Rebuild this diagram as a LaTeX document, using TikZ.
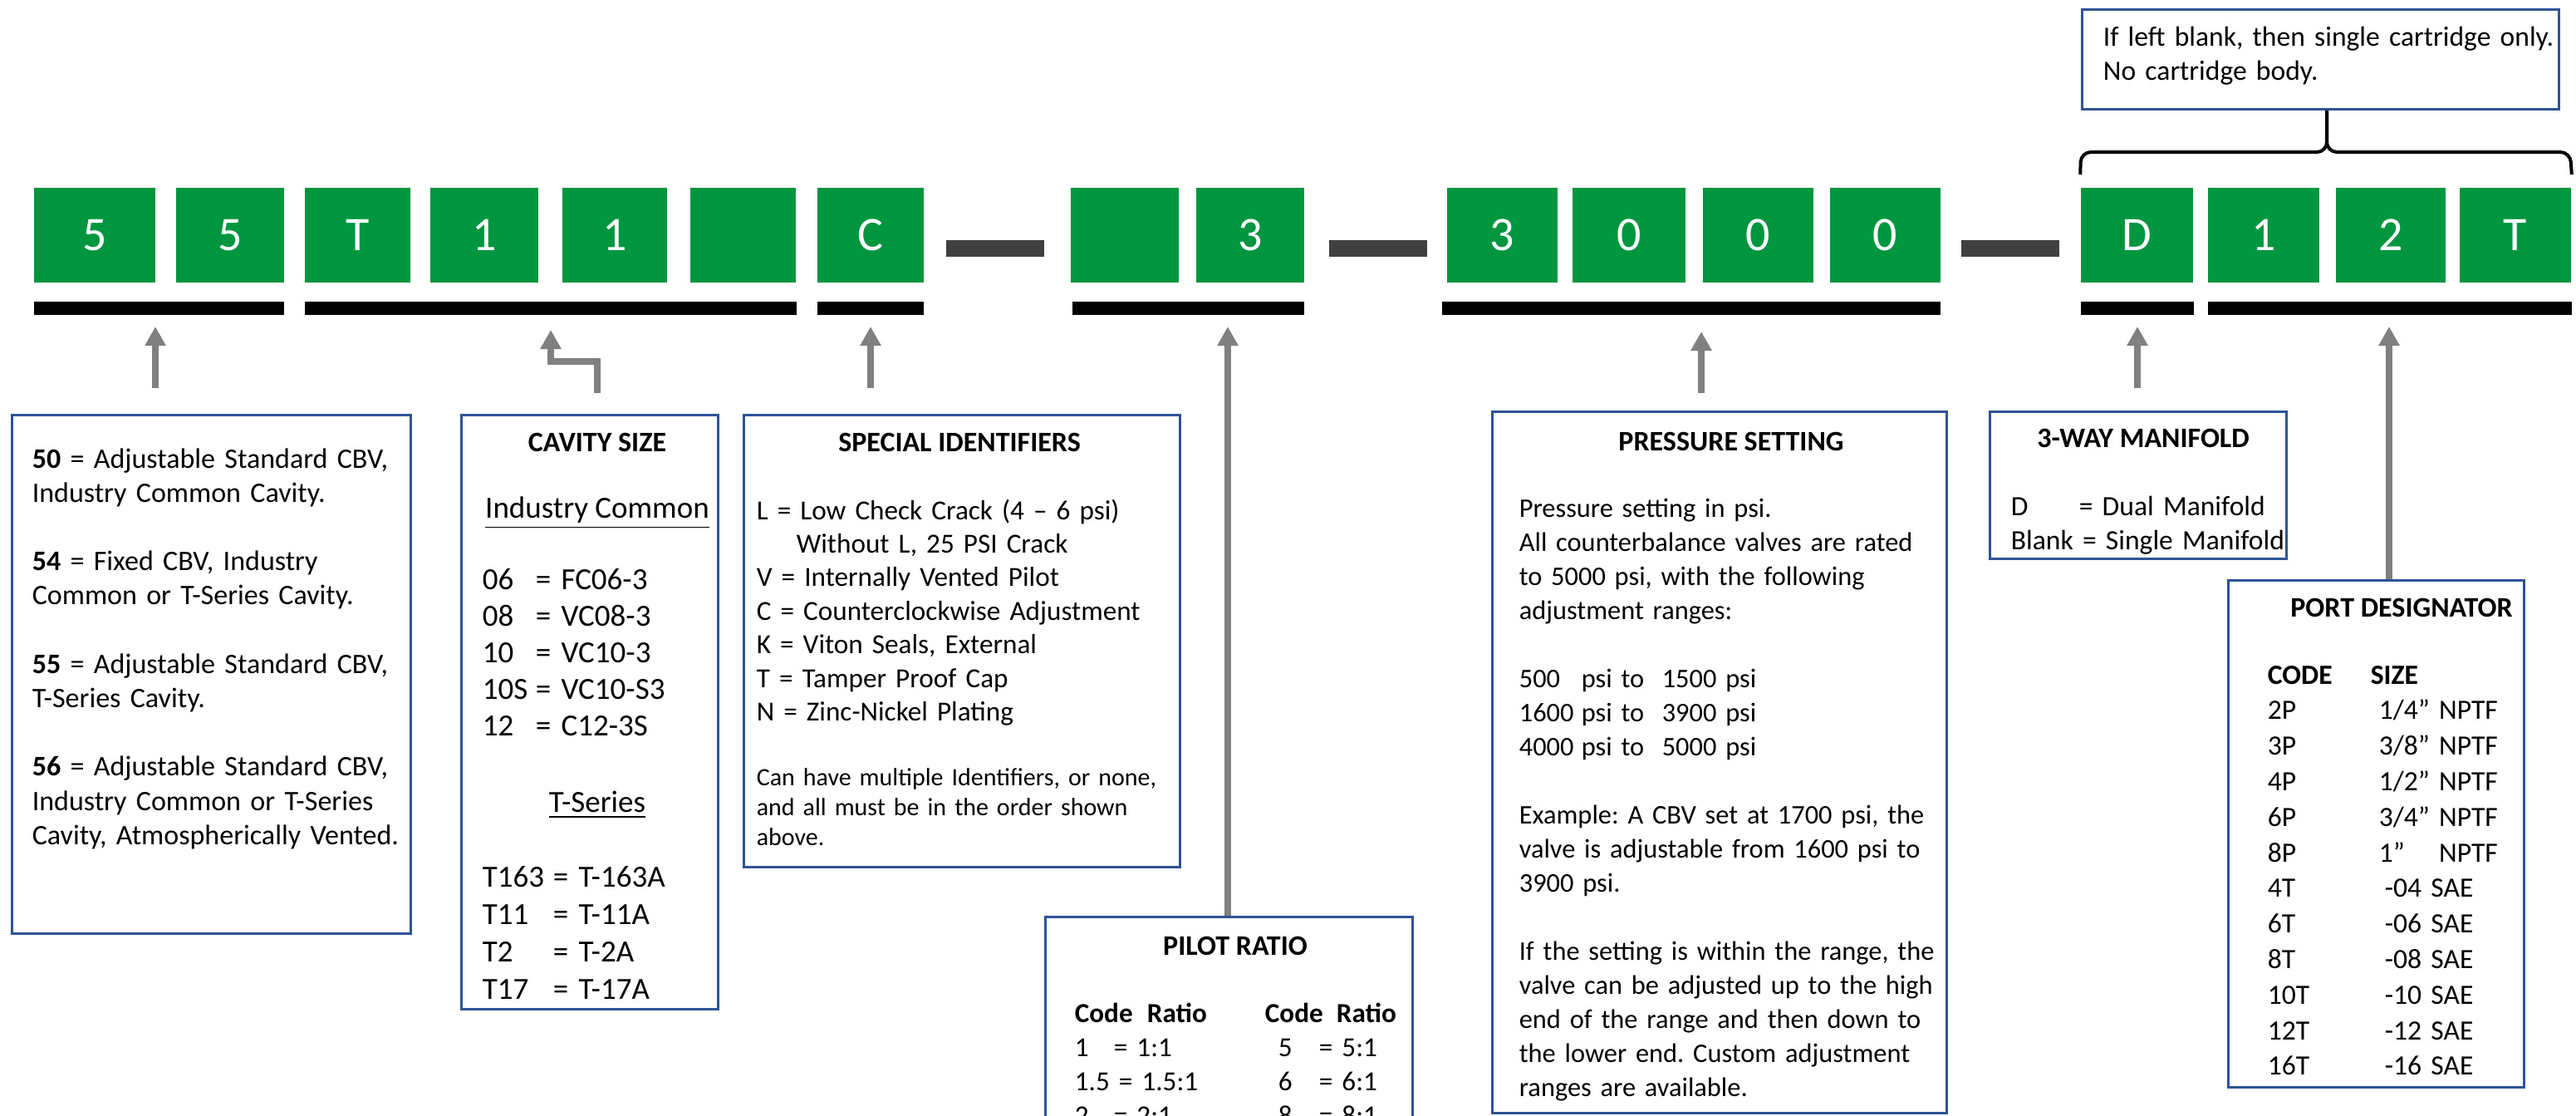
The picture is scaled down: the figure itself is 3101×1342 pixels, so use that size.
\documentclass[tikz,border=0pt]{standalone}
\usepackage{fontspec}
\setmainfont{Carlito}
\usetikzlibrary{arrows.meta}
\definecolor{cbvgreen}{RGB}{0,150,64}
\definecolor{dashgrey}{RGB}{64,64,64}
\definecolor{arrowgrey}{RGB}{128,128,128}
\definecolor{boxblue}{RGB}{47,84,150}
\frenchspacing

\begin{document}
\begin{tikzpicture}[x=0.25pt, y=-0.25pt,
  cell/.style={fill=cbvgreen, text=white, minimum height=28.5pt, inner sep=0pt, font=\fontsize{14.5}{17}\selectfont},
  bar/.style={fill=black, minimum height=4pt, inner sep=0pt},
  dashbar/.style={fill=dashgrey, minimum width=29.5pt, minimum height=5pt, inner sep=0pt},
  infobox/.style={draw=boxblue, line width=0.75pt, anchor=north west, inner sep=0pt},
  txt/.style={anchor=base west, inner sep=0pt, align=left, text width=160pt, font=\fontsize{8.5}{10.3}\selectfont},
  heading/.style={anchor=base, inner sep=0pt, font=\fontsize{8.5}{10}\selectfont\bfseries},
  pointer/.style={draw=arrowgrey, line width=2pt, -{Triangle[length=5.75pt, width=6pt]}},
  brace/.style={line width=1pt, rounded corners=3pt}]
  \useasboundingbox (0,0) rectangle (3101,1342);
  \clip (0,0) rectangle (3101,1342);

  % code cells
  \foreach \xa/\xb/\lab [count=\i, evaluate=\xa as \w using (\xb-\xa)/4, evaluate=\xa as \cx using (\xa+\xb)/2] in
    {41/187/5, 212/342/5, 367/494/T, 518/648/1, 677/803/1, 831/958/{}, 984/1112/C,
     1289/1419/{}, 1440/1570/3, 1742/1875/3, 1893/2029/0, 2050/2183/0, 2203/2336/0,
     2505/2640/D, 2658/2792/1, 2812/2944/2, 2961/3095/T}
    \node[cell, minimum width=\w*1pt] (cell\i) at (\cx,283) {\lab};

  \foreach \cx [count=\i] in {1198, 1659, 2420}
    \node[dashbar] (dash\i) at (\cx,299) {};

  % group bars
  \foreach \xa/\xb [count=\i, evaluate=\xa as \w using (\xb-\xa)/4, evaluate=\xa as \cx using (\xa+\xb)/2] in
    {41/342, 367/959, 984/1112, 1291/1570, 1736/2336, 2505/2641, 2658/3096}
    \node[bar, minimum width=\w*1pt] (bar\i) at (\cx,371) {};

  % info boxes
  \node[infobox, minimum width=120pt, minimum height=156pt] (typebox) at (13,498) {};
  \node[infobox, minimum width=77.25pt, minimum height=178.75pt] (cavity) at (554,498) {};
  \node[infobox, minimum width=131.25pt, minimum height=136pt] (special) at (894,498) {};
  \node[infobox, minimum width=110.5pt, minimum height=100pt] (pilot) at (1257,1102) {};
  \node[infobox, minimum width=136.75pt, minimum height=211pt] (pressure) at (1795,494) {};
  \node[infobox, minimum width=89.25pt, minimum height=44.25pt] (manifold) at (2394,494) {};
  \node[infobox, minimum width=89pt, minimum height=152.5pt] (port) at (2681,697) {};
  \node[infobox, minimum width=143.5pt, minimum height=30pt] (note) at (2505,10) {};

  % arrows
  \foreach \n/\x/\ya/\yb in {1/187/467/393, 3/1048/467/393, 5/2048/473/399, 6/2573/467/393} {
    \coordinate (tail\n) at (\x,\ya);
    \coordinate (tip\n) at (\x,\yb);
    \draw[pointer] (tail\n) -- (tip\n);
  }
  \coordinate (tail2) at (719,473);
  \coordinate (tip2) at (663,397);
  \draw[pointer] (tail2) -- (719,435) -- (663,435) -- (tip2);
  \coordinate (tip4) at (1478,393);
  \draw[pointer] (pilot.north -| tip4) -- (tip4);
  \coordinate (tip7) at (2876,393);
  \draw[pointer] (port.north -| tip7) -- (tip7);

  % brace under the note
  \draw[brace] (cell14.north west |- 0,210) -- (2505,183) -- (2801,183) -- (note.south -| 2801,0);
  \draw[brace] (cell17.north east |- 0,210) -- (3094,183) -- (2801,183) -- (note.south -| 2801,0);

  \node[txt, font=\fontsize{8.4}{10.4}\selectfont] (notetext) at (2531,55)
    {If left blank, then single cartridge only.\\ No cartridge body.};

  \node[txt] (typetext) at (38,563) {\textbf{50} = Adjustable Standard CBV,\\ Industry Common Cavity.\\[\baselineskip]
    \textbf{54} = Fixed CBV, Industry\\ Common or T-Series Cavity.\\[\baselineskip]
    \textbf{55} = Adjustable Standard CBV,\\ T-Series Cavity.\\[\baselineskip]
    \textbf{56} = Adjustable Standard CBV,\\ Industry Common or T-Series\\ Cavity, Atmospherically Vented.};

  \node[heading] (cavtitle) at (719,543) {CAVITY SIZE};
  \node[anchor=base, inner sep=0pt, font=\fontsize{9.25}{11}\selectfont] (cavcommon) at (719,623) {\underline{Industry Common}};
  \node[txt, font=\fontsize{9.25}{11}\selectfont] (cavlist) at (580,709)
    {\makebox[16pt][l]{06}= FC06-3\\ \makebox[16pt][l]{08}= VC08-3\\ \makebox[16pt][l]{10}= VC10-3\\
     \makebox[16pt][l]{10S}= VC10-S3\\ \makebox[16pt][l]{12}= C12-3S};
  \node[anchor=base, inner sep=0pt, font=\fontsize{9.25}{11}\selectfont] (cavtseries) at (719,977) {\underline{T-Series}};
  \node[txt, font=\fontsize{9.25}{11.3}\selectfont] (cavtlist) at (580,1067)
    {\makebox[21.25pt][l]{T163}= T-163A\\ \makebox[21.25pt][l]{T11}= T-11A\\ \makebox[21.25pt][l]{T2}= T-2A\\ \makebox[21.25pt][l]{T17}= T-17A};

  \node[heading] (spectitle) at (1155,543) {SPECIAL IDENTIFIERS};
  \node[txt, font=\fontsize{8.3}{10.1}\selectfont] (speclist) at (910,625)
    {L = Low Check Crack (4 – 6 psi)\\ \hspace*{12pt}Without L, 25 PSI Crack\\ V = Internally Vented Pilot\\
     C = Counterclockwise Adjustment\\ K = Viton Seals, External\\ T = Tamper Proof Cap\\ N = Zinc-Nickel Plating};
  \node[txt, font=\fontsize{7.5}{9}\selectfont] (specnote) at (910,945)
    {Can have multiple Identifiers, or none,\\ and all must be in the order shown\\ above.};

  \node[heading] (pilottitle) at (1487,1149) {PILOT RATIO};
  \node[txt, font=\fontsize{8.3}{10.25}\selectfont] (pilotleft) at (1293,1230)
    {\textbf{\makebox[21.75pt][l]{Code}Ratio}\\ \makebox[11.75pt][l]{1}= 1:1\\ 1.5 = 1.5:1\\ \makebox[11.75pt][l]{2}= 2:1};
  \node[txt, font=\fontsize{8.3}{10.25}\selectfont] (pilotright) at (1522,1230)
    {\textbf{\makebox[21.5pt][l]{Code}Ratio}\\ \hspace*{4pt}\makebox[12.25pt][l]{5}= 5:1\\ \hspace*{4pt}\makebox[12.25pt][l]{6}= 6:1\\ \hspace*{4pt}\makebox[12.25pt][l]{8}= 8:1};

  \node[heading] (prestitle) at (2084,542) {PRESSURE SETTING};
  \node[txt, font=\fontsize{8.1}{10.25}\selectfont] (prestext) at (1828,622)
    {Pressure setting in psi.\\ All counterbalance valves are rated\\ to 5000 psi, with the following\\ adjustment ranges:\\[\baselineskip]
     \makebox[18.75pt][l]{500}psi to\ \ 1500 psi\\ \makebox[18.75pt][l]{1600}psi to\ \ 3900 psi\\ \makebox[18.75pt][l]{4000}psi to\ \ 5000 psi\\[\baselineskip]
     Example: A CBV set at 1700 psi, the\\ valve is adjustable from 1600 psi to\\ 3900 psi.\\[\baselineskip]
     If the setting is within the range, the\\ valve can be adjusted up to the high\\ end of the range and then down to\\ the lower end. Custom adjustment\\ ranges are available.};

  \node[heading] (mantitle) at (2580,538) {3-WAY MANIFOLD};
  \node[txt, font=\fontsize{8.4}{10.25}\selectfont] (mantext) at (2420,620)
    {\makebox[20.5pt][l]{D}= Dual Manifold\\ Blank = Single Manifold};

  \node[heading] (porttitle) at (2891,742) {PORT DESIGNATOR};
  \node[txt, font=\fontsize{8.4}{10.7}\selectfont] (porttext) at (2729,823)
    {\textbf{\makebox[31pt][l]{CODE}SIZE}\\
     \makebox[33.5pt][l]{2P}1/4” NPTF\\ \makebox[33.5pt][l]{3P}3/8” NPTF\\ \makebox[33.5pt][l]{4P}1/2” NPTF\\
     \makebox[33.5pt][l]{6P}3/4” NPTF\\ \makebox[33.5pt][l]{8P}\rlap{1”}\phantom{1/4”} NPTF\\
     \makebox[35.25pt][l]{4T}-04 SAE\\ \makebox[35.25pt][l]{6T}-06 SAE\\ \makebox[35.25pt][l]{8T}-08 SAE\\
     \makebox[35.25pt][l]{10T}-10 SAE\\ \makebox[35.25pt][l]{12T}-12 SAE\\ \makebox[35.25pt][l]{16T}-16 SAE};
\end{tikzpicture}
\end{document}
